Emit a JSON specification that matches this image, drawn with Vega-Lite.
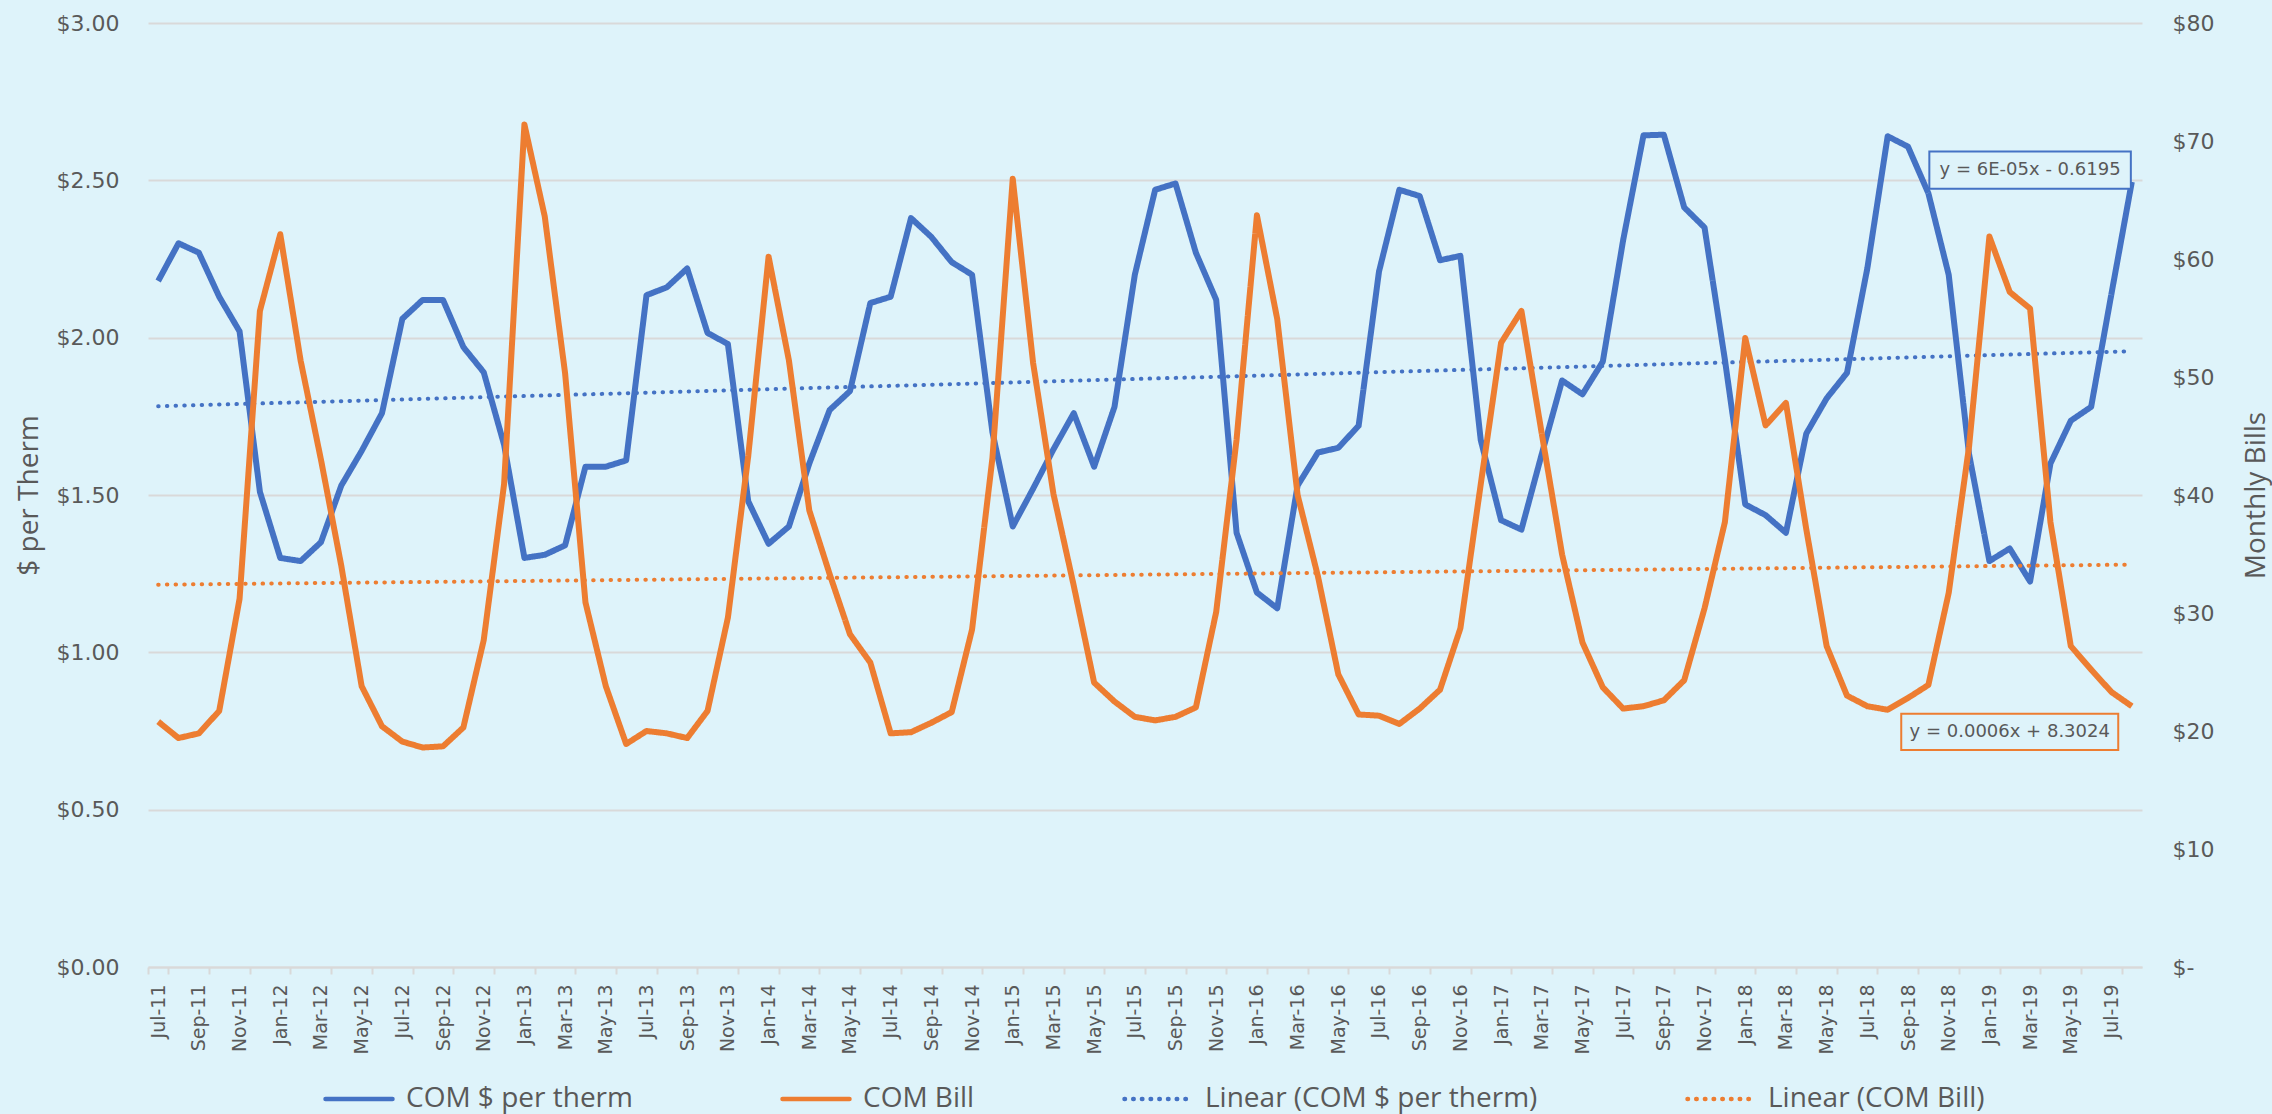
{
"$schema": "https://vega.github.io/schema/vega-lite/v6.json",
"width": 1994,
"height": 944,
"autosize": {"type": "pad"},
"padding": {"left": 15, "top": 12, "right": 2, "bottom": 2},
"background": "#DEF3FA",
"config": {"view": {"stroke": null}, "font": "DejaVu Sans"},
"datasets": {
"monthly": [
{"month":"Jul-11","therm":2.18,"bill":20.8},
{"month":"Aug-11","therm":2.30,"bill":19.4},
{"month":"Sep-11","therm":2.27,"bill":19.8},
{"month":"Oct-11","therm":2.13,"bill":21.7},
{"month":"Nov-11","therm":2.02,"bill":31.2},
{"month":"Dec-11","therm":1.51,"bill":55.6},
{"month":"Jan-12","therm":1.30,"bill":62.1},
{"month":"Feb-12","therm":1.29,"bill":51.4},
{"month":"Mar-12","therm":1.35,"bill":43.0},
{"month":"Apr-12","therm":1.53,"bill":34.0},
{"month":"May-12","therm":1.64,"bill":23.8},
{"month":"Jun-12","therm":1.76,"bill":20.4},
{"month":"Jul-12","therm":2.06,"bill":19.1},
{"month":"Aug-12","therm":2.12,"bill":18.6},
{"month":"Sep-12","therm":2.12,"bill":18.7},
{"month":"Oct-12","therm":1.97,"bill":20.3},
{"month":"Nov-12","therm":1.89,"bill":27.7},
{"month":"Dec-12","therm":1.66,"bill":40.9},
{"month":"Jan-13","therm":1.30,"bill":71.4},
{"month":"Feb-13","therm":1.31,"bill":63.6},
{"month":"Mar-13","therm":1.34,"bill":50.3},
{"month":"Apr-13","therm":1.59,"bill":30.9},
{"month":"May-13","therm":1.59,"bill":23.8},
{"month":"Jun-13","therm":1.61,"bill":18.9},
{"month":"Jul-13","therm":2.135,"bill":20.0},
{"month":"Aug-13","therm":2.16,"bill":19.8},
{"month":"Sep-13","therm":2.22,"bill":19.4},
{"month":"Oct-13","therm":2.015,"bill":21.7},
{"month":"Nov-13","therm":1.98,"bill":29.6},
{"month":"Dec-13","therm":1.48,"bill":43.3},
{"month":"Jan-14","therm":1.345,"bill":60.2},
{"month":"Feb-14","therm":1.40,"bill":51.4},
{"month":"Mar-14","therm":1.60,"bill":38.7},
{"month":"Apr-14","therm":1.77,"bill":33.3},
{"month":"May-14","therm":1.83,"bill":28.2},
{"month":"Jun-14","therm":2.11,"bill":25.8},
{"month":"Jul-14","therm":2.13,"bill":19.8},
{"month":"Aug-14","therm":2.38,"bill":19.9},
{"month":"Sep-14","therm":2.32,"bill":20.7},
{"month":"Oct-14","therm":2.24,"bill":21.6},
{"month":"Nov-14","therm":2.20,"bill":28.6},
{"month":"Dec-14","therm":1.70,"bill":43.1},
{"month":"Jan-15","therm":1.40,"bill":66.8},
{"month":"Feb-15","therm":1.52,"bill":51.2},
{"month":"Mar-15","therm":1.645,"bill":40.1},
{"month":"Apr-15","therm":1.76,"bill":32.3},
{"month":"May-15","therm":1.59,"bill":24.1},
{"month":"Jun-15","therm":1.78,"bill":22.5},
{"month":"Jul-15","therm":2.20,"bill":21.2},
{"month":"Aug-15","therm":2.47,"bill":20.9},
{"month":"Sep-15","therm":2.49,"bill":21.2},
{"month":"Oct-15","therm":2.27,"bill":22.0},
{"month":"Nov-15","therm":2.12,"bill":30.1},
{"month":"Dec-15","therm":1.38,"bill":44.7},
{"month":"Jan-16","therm":1.19,"bill":63.7},
{"month":"Feb-16","therm":1.14,"bill":54.9},
{"month":"Mar-16","therm":1.53,"bill":40.0},
{"month":"Apr-16","therm":1.635,"bill":33.1},
{"month":"May-16","therm":1.65,"bill":24.8},
{"month":"Jun-16","therm":1.72,"bill":21.4},
{"month":"Jul-16","therm":2.21,"bill":21.3},
{"month":"Aug-16","therm":2.47,"bill":20.6},
{"month":"Sep-16","therm":2.45,"bill":21.9},
{"month":"Oct-16","therm":2.246,"bill":23.5},
{"month":"Nov-16","therm":2.26,"bill":28.7},
{"month":"Dec-16","therm":1.675,"bill":40.9},
{"month":"Jan-17","therm":1.42,"bill":52.9},
{"month":"Feb-17","therm":1.39,"bill":55.6},
{"month":"Mar-17","therm":1.63,"bill":45.2},
{"month":"Apr-17","therm":1.864,"bill":34.95},
{"month":"May-17","therm":1.82,"bill":27.5},
{"month":"Jun-17","therm":1.924,"bill":23.7},
{"month":"Jul-17","therm":2.31,"bill":21.9},
{"month":"Aug-17","therm":2.643,"bill":22.1},
{"month":"Sep-17","therm":2.645,"bill":22.6},
{"month":"Oct-17","therm":2.414,"bill":24.3},
{"month":"Nov-17","therm":2.35,"bill":30.4},
{"month":"Dec-17","therm":1.93,"bill":37.7},
{"month":"Jan-18","therm":1.47,"bill":53.3},
{"month":"Feb-18","therm":1.436,"bill":45.9},
{"month":"Mar-18","therm":1.38,"bill":47.8},
{"month":"Apr-18","therm":1.695,"bill":37.1},
{"month":"May-18","therm":1.807,"bill":27.2},
{"month":"Jun-18","therm":1.888,"bill":23.0},
{"month":"Jul-18","therm":2.22,"bill":22.1},
{"month":"Aug-18","therm":2.64,"bill":21.8},
{"month":"Sep-18","therm":2.607,"bill":22.8},
{"month":"Oct-18","therm":2.459,"bill":23.9},
{"month":"Nov-18","therm":2.20,"bill":31.7},
{"month":"Dec-18","therm":1.63,"bill":44.1},
{"month":"Jan-19","therm":1.29,"bill":61.9},
{"month":"Feb-19","therm":1.33,"bill":57.2},
{"month":"Mar-19","therm":1.225,"bill":55.8},
{"month":"Apr-19","therm":1.60,"bill":37.7},
{"month":"May-19","therm":1.736,"bill":27.2},
{"month":"Jun-19","therm":1.78,"bill":25.2},
{"month":"Jul-19","therm":2.14,"bill":23.3},
{"month":"Aug-19","therm":2.495,"bill":22.1}
],
"trend_therm": [
{"month":"Jul-11","value":1.782},
{"month":"Aug-19","value":1.957}
],
"trend_bill": [
{"month":"Jul-11","value":32.4},
{"month":"Aug-19","value":34.1}
],
"ann_therm": [
{"month":"Mar-19","y1":2.473,"y2":2.592,"ymid":2.533,"label":"y = 6E-05x - 0.6195"}
],
"ann_bill": [
{"month":"Feb-19","y1":18.38,"y2":21.46,"ymid":19.92,"label":"y = 0.0006x + 8.3024"}
]
},
"encoding": {
"x": {
"field": "month",
"type": "ordinal",
"scale": {
"type": "band",
"paddingInner": 0,
"paddingOuter": 0,
"domain": ["Jul-11","Aug-11","Sep-11","Oct-11","Nov-11","Dec-11","Jan-12","Feb-12","Mar-12","Apr-12","May-12","Jun-12","Jul-12","Aug-12","Sep-12","Oct-12","Nov-12","Dec-12","Jan-13","Feb-13","Mar-13","Apr-13","May-13","Jun-13","Jul-13","Aug-13","Sep-13","Oct-13","Nov-13","Dec-13","Jan-14","Feb-14","Mar-14","Apr-14","May-14","Jun-14","Jul-14","Aug-14","Sep-14","Oct-14","Nov-14","Dec-14","Jan-15","Feb-15","Mar-15","Apr-15","May-15","Jun-15","Jul-15","Aug-15","Sep-15","Oct-15","Nov-15","Dec-15","Jan-16","Feb-16","Mar-16","Apr-16","May-16","Jun-16","Jul-16","Aug-16","Sep-16","Oct-16","Nov-16","Dec-16","Jan-17","Feb-17","Mar-17","Apr-17","May-17","Jun-17","Jul-17","Aug-17","Sep-17","Oct-17","Nov-17","Dec-17","Jan-18","Feb-18","Mar-18","Apr-18","May-18","Jun-18","Jul-18","Aug-18","Sep-18","Oct-18","Nov-18","Dec-18","Jan-19","Feb-19","Mar-19","Apr-19","May-19","Jun-19","Jul-19","Aug-19"]
},
"axis": {
"title": null,
"orient": "bottom",
"values": ["Jul-11","Sep-11","Nov-11","Jan-12","Mar-12","May-12","Jul-12","Sep-12","Nov-12","Jan-13","Mar-13","May-13","Jul-13","Sep-13","Nov-13","Jan-14","Mar-14","May-14","Jul-14","Sep-14","Nov-14","Jan-15","Mar-15","May-15","Jul-15","Sep-15","Nov-15","Jan-16","Mar-16","May-16","Jul-16","Sep-16","Nov-16","Jan-17","Mar-17","May-17","Jul-17","Sep-17","Nov-17","Jan-18","Mar-18","May-18","Jul-18","Sep-18","Nov-18","Jan-19","Mar-19","May-19","Jul-19"],
"labelAngle": 270,
"labelFont": "DejaVu Sans",
"labelFontSize": 19,
"labelColor": "#595959",
"labelPadding": 10,
"labelOverlap": false,
"labelBound": false,
"tickBand": "extent",
"tickSize": 7,
"tickColor": "#D9D9D9",
"tickWidth": 2,
"domainColor": "#D9D9D9",
"domainWidth": 2,
"grid": false
}
}
},
"layer": [
{
"data": {"name": "monthly"},
"mark": {"type": "line", "strokeWidth": 6, "strokeJoin": "round"},
"encoding": {
"y": {
"field": "therm", "type": "quantitative", "title": "$ per Therm",
"scale": {"domain": [0, 3], "nice": false, "zero": true},
"axis": {
"orient": "left",
"title": "$ per Therm",
"values": [0, 0.5, 1, 1.5, 2, 2.5, 3],
"format": "$.2f",
"grid": true, "gridColor": "#D9D9D9", "gridWidth": 2,
"domain": false, "ticks": false,
"labelFont": "DejaVu Sans", "labelFontSize": 22, "labelColor": "#595959", "labelPadding": 29,
"titleFont": "Open Sans", "titleFontSize": 28, "titleFontWeight": "normal", "titleColor": "#595959",
"titleAngle": 270, "titleX": -119, "titleY": 472, "titleAlign": "center", "titleBaseline": "middle"
}
},
"color": {
"datum": "COM $ per therm", "type": "nominal",
"scale": {
"domain": ["COM $ per therm", "COM Bill", "Linear (COM $ per therm)", "Linear (COM Bill)"],
"range": ["#4472C4", "#ED7D31", "#4472C4", "#ED7D31"]
},
"legend": {
"title": null, "orient": "none", "legendX": 175, "legendY": 1040,
"direction": "horizontal", "symbolType": "stroke", "symbolSize": 4489, "symbolStrokeWidth": 4.5,
"labelFont": "Open Sans", "labelFontSize": 28, "labelColor": "#595959", "labelOffset": 11,
"columnPadding": 140, "padding": 0, "labelLimit": 0,
"encode": {"symbols": {"update": {"strokeCap": {"value": "round"}}}}
}
},
"strokeDash": {
"datum": "COM $ per therm", "type": "nominal",
"scale": {
"domain": ["COM $ per therm", "COM Bill", "Linear (COM $ per therm)", "Linear (COM Bill)"],
"range": [[1, 0], [1, 0], [0.5, 8.2], [0.5, 8.2]]
}
}
}
},
{
"data": {"name": "trend_therm"},
"mark": {"type": "line", "strokeWidth": 4, "strokeCap": "round"},
"encoding": {
"y": {"field": "value", "type": "quantitative", "scale": {"domain": [0, 3], "nice": false, "zero": true}, "axis": null},
"color": {"datum": "Linear (COM $ per therm)", "type": "nominal"},
"strokeDash": {"datum": "Linear (COM $ per therm)", "type": "nominal"}
}
},
{
"data": {"name": "monthly"},
"mark": {"type": "line", "strokeWidth": 6, "strokeJoin": "round"},
"encoding": {
"y": {
"field": "bill", "type": "quantitative", "title": "Monthly Bills",
"scale": {"domain": [0, 80], "nice": false, "zero": true},
"axis": {
"orient": "right",
"title": "Monthly Bills",
"values": [0, 10, 20, 30, 40, 50, 60, 70, 80],
"labelExpr": "datum.value === 0 ? '$-' : '$' + datum.value",
"grid": false, "domain": false, "ticks": false,
"labelFont": "DejaVu Sans", "labelFontSize": 22, "labelColor": "#595959", "labelPadding": 30,
"titleFont": "Open Sans", "titleFontSize": 28, "titleFontWeight": "normal", "titleColor": "#595959",
"titleAngle": 270, "titleX": 114, "titleY": 472, "titleAlign": "center", "titleBaseline": "middle"
}
},
"color": {"datum": "COM Bill", "type": "nominal"},
"strokeDash": {"datum": "COM Bill", "type": "nominal"}
}
},
{
"data": {"name": "trend_bill"},
"mark": {"type": "line", "strokeWidth": 4, "strokeCap": "round"},
"encoding": {
"y": {"field": "value", "type": "quantitative", "scale": {"domain": [0, 80], "nice": false, "zero": true}, "axis": null},
"color": {"datum": "Linear (COM Bill)", "type": "nominal"},
"strokeDash": {"datum": "Linear (COM Bill)", "type": "nominal"}
}
},
{
"data": {"name": "ann_therm"},
"mark": {"type": "bar", "width": 201.5, "fill": "#DEF3FA", "stroke": "#4472C4", "strokeWidth": 2},
"encoding": {
"y": {"field": "y1", "type": "quantitative", "scale": {"domain": [0, 3], "nice": false, "zero": true}, "axis": null},
"y2": {"field": "y2"}
}
},
{
"data": {"name": "ann_therm"},
"mark": {"type": "text", "font": "DejaVu Sans", "fontSize": 18, "fill": "#595959", "align": "center", "baseline": "middle"},
"encoding": {
"y": {"field": "ymid", "type": "quantitative", "scale": {"domain": [0, 3], "nice": false, "zero": true}, "axis": null},
"text": {"field": "label"}
}
},
{
"data": {"name": "ann_bill"},
"mark": {"type": "bar", "width": 217, "fill": "#DEF3FA", "stroke": "#ED7D31", "strokeWidth": 2},
"encoding": {
"y": {"field": "y1", "type": "quantitative", "scale": {"domain": [0, 80], "nice": false, "zero": true}, "axis": null},
"y2": {"field": "y2"}
}
},
{
"data": {"name": "ann_bill"},
"mark": {"type": "text", "font": "DejaVu Sans", "fontSize": 18, "fill": "#595959", "align": "center", "baseline": "middle"},
"encoding": {
"y": {"field": "ymid", "type": "quantitative", "scale": {"domain": [0, 80], "nice": false, "zero": true}, "axis": null},
"text": {"field": "label"}
}
}
],
"resolve": {"scale": {"y": "independent"}}
}
